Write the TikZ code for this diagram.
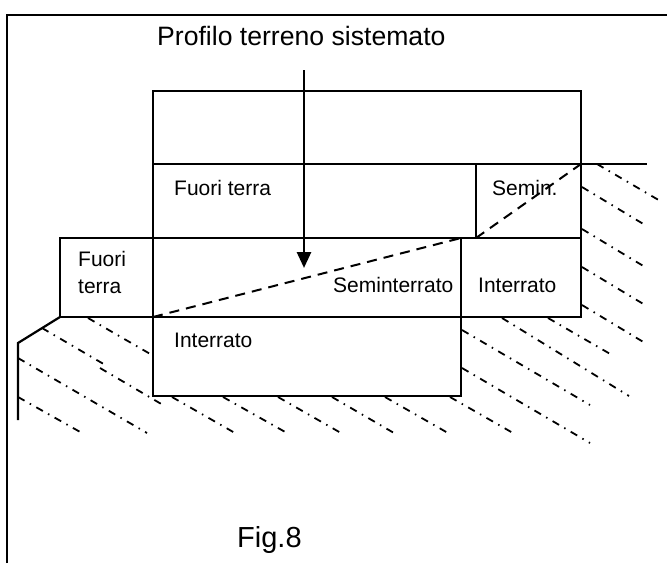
\documentclass[tikz,border=0pt]{standalone}
\usepackage{fontspec}
\setmainfont{Liberation Sans}
\usetikzlibrary{arrows.meta}
\tikzset{
  wall/.style={line width=2.2pt,line cap=rect},
  frameline/.style={line width=2.2pt},
  profile/.style={line width=2pt,dash pattern=on 10pt off 7pt},
  hatch/.style={line width=1.8pt,dash pattern=on 7.5pt off 6pt on 1.5pt off 6pt},
  small/.style={anchor=base west,inner sep=0pt,font=\fontsize{21pt}{23pt}\selectfont},
  big/.style={anchor=base west,inner sep=0pt,font=\fontsize{26.6pt}{29pt}\selectfont},
}
\begin{document}
\begin{tikzpicture}[x=1pt,y=-1pt]
\useasboundingbox (0,0) rectangle (667,563);
\fill[white] (0,0) rectangle (667,563);
% frame
\draw[frameline] (7,563) -- (7,15) -- (667,15);
% hatching
\foreach \a/\b/\c/\d in {
  88/318/152/355, 42/328/107/366, 100/368/163/405, 18/358/147/433, 18/397/82/433,
  172/397/235/433, 223/397/287/433, 278/397/341/433, 332/397/394/433, 385/397/448/433,
  450/397/513/433, 462/368/590/443, 462/330/590/405, 502/318/629/396, 548/318/612/355,
  582/305/645/343, 582/267/645/305, 582/229/645/267, 582/187/645/225, 597/164/662/202}
  \draw[hatch] (\a,\b) -- (\c,\d);
% walls
\draw[wall] (153,238) -- (153,91) -- (581,91) -- (581,317) -- (60,317) -- (60,238) -- (581,238);
\draw[wall] (153,164) -- (646,164);
\draw[wall] (476,164) -- (476,238);
\draw[wall] (153,238) -- (153,396) -- (461,396) -- (461,238);
\draw[wall] (60,317) -- (18,343) -- (18,419);
% terrain profile
\draw[profile] (153,317) -- (461,238);
\draw[profile] (476,238) -- (581,164);
% labels
\node[big] (title) at (157,45) {Profilo terreno sistemato};
\node[big] (fig) at (237,547) {\fontsize{29pt}{31pt}\selectfont Fig.8};
\node[small] (ft1) at (174,195) {Fuori terra};
\node[small] (sem1) at (492,195) {Semin.};
\node[small] (ft2) at (78,266) {Fuori};
\node[small] (ft3) at (78,293) {terra};
\node[small] (sem2) at (333,292) {Seminterrato};
\node[small] (int1) at (478,292) {Interrato};
\node[small] (int2) at (174,347) {Interrato};
% arrow
\coordinate (start) at (304,70);
\coordinate (tip) at (304,268);
\draw[line width=2.8pt,-{Triangle[length=16pt,width=14pt]}] (start) -- (tip);
\end{tikzpicture}
\end{document}
